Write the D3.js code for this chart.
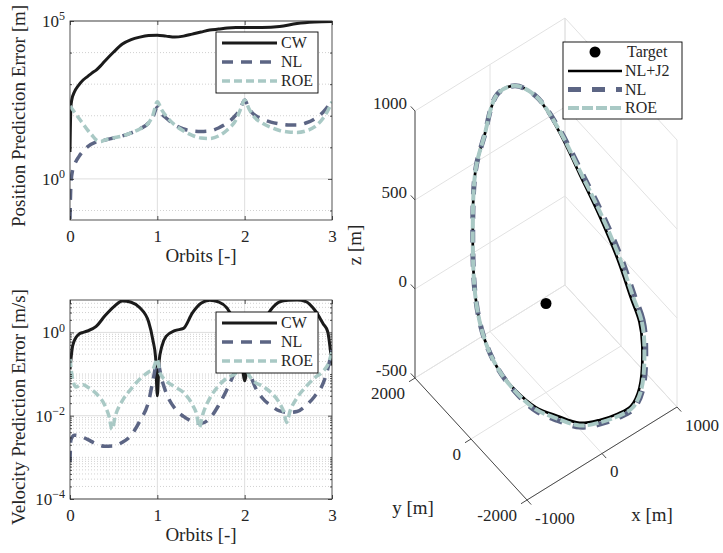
<!DOCTYPE html>
<html>
<head>
<meta charset="utf-8">
<script src="https://cdn.jsdelivr.net/npm/d3@7"></script>
<style>
body { margin: 0; background: #fff; }
text { font-family: "Liberation Serif", "DejaVu Serif", serif; fill: #262626; }
</style>
</head>
<body>
<svg width="723" height="553"></svg>
<script>
// ---- position error [m] vs orbits ----
var posCwT = [0, 0.01, 0.02, 0.05, 0.1, 0.15, 0.2, 0.25, 0.3, 0.35, 0.4, 0.5, 0.6, 0.7, 0.8, 0.9, 1.0, 1.1, 1.2, 1.3, 1.4, 1.5, 1.6, 1.7, 1.8, 1.9, 2.0, 2.2, 2.4, 2.6, 2.8, 3.0];
var posCw = [7.1, 188, 314, 562, 935, 1350, 1740, 2240, 2800, 3800, 5400, 10400, 18600, 25700, 30900, 34700, 35600, 33200, 30900, 33200, 38500, 44600, 51500, 55500, 60000, 62000, 62000, 62000, 66500, 83000, 92300, 95800];
var posNlT = [0, 0.01, 0.03, 0.06, 0.1, 0.2, 0.3, 0.4, 0.5, 0.6, 0.7, 0.8, 0.9, 0.95, 1.0, 1.05, 1.1, 1.2, 1.3, 1.4, 1.5, 1.6, 1.7, 1.8, 1.9, 1.95, 2.0, 2.05, 2.1, 2.2, 2.3, 2.4, 2.5, 2.6, 2.7, 2.8, 2.9, 3.0];
var posNl = [0.054, 0.65, 1.9, 3.2, 5.0, 10.3, 14.8, 17.1, 19.8, 22.9, 28.6, 38.2, 59, 91.5, 190, 114, 85, 51, 38, 33, 31.8, 33, 41, 59, 106, 165, 316, 165, 114, 79, 63, 55, 51, 51, 59, 79, 132, 300];
var posRoeT = [0, 0.05, 0.1, 0.15, 0.2, 0.25, 0.3, 0.35, 0.4, 0.5, 0.6, 0.7, 0.8, 0.9, 0.95, 1.0, 1.05, 1.1, 1.2, 1.3, 1.4, 1.5, 1.6, 1.7, 1.8, 1.9, 1.95, 2.0, 2.05, 2.1, 2.2, 2.3, 2.4, 2.5, 2.6, 2.7, 2.8, 2.9, 2.95, 3.0];
var posRoe = [204, 132, 85, 55, 35.5, 24.6, 17.1, 15.3, 17.1, 19.8, 22.9, 28.6, 38.2, 59, 106, 279, 153, 98, 51, 33, 23.9, 19.8, 19.1, 22.9, 35.5, 74, 153, 316, 165, 98, 59, 42.7, 34.2, 30.6, 29.6, 33, 44.3, 85, 141, 279];

// ---- velocity error [m/s] vs orbits ----
var velCwT = [0, 0.03, 0.07, 0.1, 0.15, 0.2, 0.3, 0.4, 0.5, 0.6, 0.7, 0.8, 0.9, 0.95, 0.98, 1.0, 1.02, 1.05, 1.1, 1.2, 1.3, 1.4, 1.5, 1.6, 1.7, 1.8, 1.9, 1.95, 2.0, 2.05, 2.1, 2.2, 2.3, 2.4, 2.5, 2.6, 2.7, 2.8, 2.9, 2.95, 3.0];
var velCw = [0.13, 0.47, 0.76, 0.9, 1.0, 1.08, 1.4, 2.5, 4.1, 5.7, 5.3, 3.9, 1.8, 0.64, 0.25, 0.03, 0.2, 0.45, 0.8, 1.1, 1.25, 2.9, 5.0, 5.9, 5.4, 3.8, 1.5, 0.6, 0.069, 0.45, 0.8, 1.6, 3.5, 5.4, 5.9, 6.0, 5.5, 3.5, 1.6, 1.05, 0.16];
var velNlT = [0, 0.01, 0.05, 0.1, 0.2, 0.3, 0.4, 0.5, 0.6, 0.7, 0.8, 0.9, 0.95, 1.0, 1.05, 1.1, 1.2, 1.3, 1.4, 1.5, 1.6, 1.7, 1.8, 1.9, 1.95, 2.0, 2.05, 2.1, 2.2, 2.3, 2.4, 2.5, 2.6, 2.7, 2.8, 2.9, 2.95, 3.0];
var velNl = [7.8e-4, 2.6e-3, 3.4e-3, 3.3e-3, 2.7e-3, 2.1e-3, 1.85e-3, 1.9e-3, 2.3e-3, 3.4e-3, 7.5e-3, 0.022, 0.07, 0.2, 0.076, 0.036, 0.015, 0.0096, 0.0073, 0.0065, 0.0086, 0.0175, 0.044, 0.13, 0.23, 0.3, 0.13, 0.061, 0.027, 0.0175, 0.013, 0.012, 0.0126, 0.0175, 0.029, 0.061, 0.13, 0.39];
var velRoeT = [0, 0.03, 0.07, 0.1, 0.15, 0.2, 0.3, 0.4, 0.45, 0.48, 0.52, 0.6, 0.7, 0.8, 0.9, 0.95, 1.0, 1.03, 1.1, 1.2, 1.3, 1.4, 1.45, 1.48, 1.52, 1.6, 1.7, 1.8, 1.9, 1.95, 2.0, 2.03, 2.1, 2.2, 2.3, 2.4, 2.45, 2.48, 2.52, 2.6, 2.7, 2.8, 2.9, 2.95, 3.0];
var velRoe = [0.23, 0.076, 0.049, 0.052, 0.055, 0.049, 0.034, 0.0175, 0.0091, 0.0047, 0.010, 0.023, 0.044, 0.076, 0.112, 0.13, 0.23, 0.106, 0.069, 0.049, 0.036, 0.0185, 0.0107, 0.0052, 0.0107, 0.026, 0.052, 0.081, 0.106, 0.148, 0.22, 0.118, 0.069, 0.052, 0.036, 0.020, 0.012, 0.0069, 0.013, 0.027, 0.049, 0.081, 0.118, 0.165, 0.35];

var orbitTicks = [0, 1, 2, 3];
var posTicks = [1, 1e5];
var velTicks = [1e-4, 1e-2, 1];

// ---- 3D trajectory [m] (one orbit, closed) ----
var nlj2X = [805, 925, 989, 995, 941, 831, 673, 476, 256, 26, -197, -399, -565, -685, -749, -755, -701, -591, -433, -236, -16, 214, 437, 639];
var nlj2Y = [-1283, -860, -384, 112, 594, 1030, 1389, 1647, 1787, 1799, 1683, 1445, 1103, 680, 204, -292, -774, -1210, -1569, -1827, -1967, -1979, -1863, -1625];
var nlj2Z = [-223, -198, -161, -28, 139, 335, 568, 760, 850, 863, 700, 608, 344, 94, -33, -115, -170, -220, -250, -296, -313, -337, -371, -363];
var nlX = [850, 972, 1036, 1040, 981, 861, 688, 476, 256, 26, -197, -399, -565, -685, -749, -755, -701, -591, -433, -231, -6, 234, 472, 684];
var nlY = [-1283, -860, -384, 112, 594, 1030, 1389, 1647, 1787, 1799, 1683, 1445, 1103, 680, 204, -292, -774, -1210, -1569, -1827, -1967, -1979, -1863, -1625];
var nlZ = [-233, -198, -161, -28, 139, 335, 568, 760, 850, 863, 700, 608, 344, 94, -33, -115, -180, -240, -275, -321, -338, -362, -396, -383];
var roeX = [832, 953, 1017, 1022, 965, 849, 682, 476, 256, 26, -197, -399, -565, -685, -749, -755, -701, -591, -433, -233, -10, 226, 458, 666];
var roeY = [-1283, -860, -384, 112, 594, 1030, 1389, 1647, 1787, 1799, 1683, 1445, 1103, 680, 204, -292, -774, -1210, -1569, -1827, -1967, -1979, -1863, -1625];
var roeZ = [-229, -198, -161, -28, 139, 335, 568, 760, 850, 863, 700, 608, 344, 94, -33, -115, -176, -232, -265, -311, -328, -352, -386, -375];
var target = [0, 0, 0];
var xTicks3 = [-1000, 0, 1000];
var yTicks3 = [-2000, 0, 2000];
var zTicks3 = [-500, 0, 500, 1000];

var cBlack = '#1b1b1b', cNl = '#5c6584', cRoe = '#a9c9c5', cAxis = '#262626';
var serif = '"Liberation Serif", "DejaVu Serif", serif';

var svg = d3.select('svg');
var left = 70, right = 332;
var x = d3.scaleLinear().domain([0, 3]).range([left, right]);

function sup(sel) {
    sel.each(function(d) {
        var t = d3.select(this);
        var e = Math.round(Math.log10(d));
        t.text('10');
        t.append('tspan').attr('dy', '-0.55em').attr('font-size', '12px')
            .text(e < 0 ? '\u2212' + (-e) : e);
    });
}

function panel(top, bottom, yDom, majors, minors, series, ylab, ylabY, legTop) {
    var y = d3.scaleLog().domain(yDom).range([bottom, top]);
    var g = svg.append('g');
    var id = 'clip' + top;
    svg.append('clipPath').attr('id', id).append('rect')
        .attr('x', left).attr('y', top).attr('width', right - left).attr('height', bottom - top);

    // grid
    g.selectAll(null).data(minors).enter().append('line')
        .attr('x1', left).attr('x2', right)
        .attr('y1', function(d){ return y(d); }).attr('y2', function(d){ return y(d); })
        .attr('stroke', '#bdbdbd').attr('stroke-width', 0.7).attr('stroke-dasharray', '1,2');
    g.selectAll(null).data(majors).enter().append('line')
        .attr('x1', left).attr('x2', right)
        .attr('y1', function(d){ return y(d); }).attr('y2', function(d){ return y(d); })
        .attr('stroke', '#dedede').attr('stroke-width', 1);
    g.selectAll(null).data([1, 2]).enter().append('line')
        .attr('x1', function(d){ return x(d); }).attr('x2', function(d){ return x(d); })
        .attr('y1', top).attr('y2', bottom)
        .attr('stroke', '#dedede').attr('stroke-width', 1);

    var line = d3.line()
        .x(function(d){ return x(d[0]); })
        .y(function(d){ return y(d[1]); })
        .curve(d3.curveMonotoneX);
    series.forEach(function(s) {
        g.append('path').datum(d3.zip(s.t, s.v))
            .attr('clip-path', 'url(#' + id + ')')
            .attr('d', line)
            .attr('fill', 'none')
            .attr('stroke', s.color)
            .attr('stroke-width', s.w)
            .attr('stroke-dasharray', s.dash);
    });

    // box and ticks
    g.append('rect').attr('x', left).attr('y', top)
        .attr('width', right - left).attr('height', bottom - top)
        .attr('fill', 'none').attr('stroke', cAxis).attr('stroke-width', 0.8);

    var ax = g.append('g').attr('transform', 'translate(0,' + bottom + ')')
        .call(d3.axisBottom(x).tickValues(orbitTicks).tickSize(-4).tickPadding(10).tickFormat(d3.format('d')));
    g.append('g').attr('transform', 'translate(0,' + top + ')')
        .call(d3.axisTop(x).tickValues(orbitTicks).tickSize(-4).tickFormat(''));
    var ay = g.append('g').attr('transform', 'translate(' + left + ',0)')
        .call(d3.axisLeft(y).tickValues(majors).tickSize(-4).tickPadding(5));
    g.append('g').attr('transform', 'translate(' + right + ',0)')
        .call(d3.axisRight(y).tickValues(majors).tickSize(-4).tickFormat(''));
    g.append('g').attr('transform', 'translate(' + left + ',0)')
        .call(d3.axisLeft(y).tickValues(minors).tickSize(-2).tickFormat(''));
    g.append('g').attr('transform', 'translate(' + right + ',0)')
        .call(d3.axisRight(y).tickValues(minors).tickSize(-2).tickFormat(''));
    g.selectAll('.domain').remove();
    g.selectAll('.tick line').attr('stroke', cAxis).attr('stroke-width', 0.8);
    ax.selectAll('text').attr('font-family', serif).attr('font-size', 17).attr('fill', cAxis);
    ay.selectAll('text').attr('font-family', serif).attr('font-size', 17).attr('fill', cAxis).call(sup);

    g.append('text').attr('x', (left + right) / 2).attr('y', bottom + 42)
        .attr('text-anchor', 'middle').attr('font-size', 19).text('Orbits [-]');
    g.append('text').attr('transform', 'translate(25,' + ylabY + ') rotate(-90)')
        .attr('text-anchor', 'middle').attr('font-size', 19).text(ylab);

    // legend
    var lg = g.append('g').attr('transform', 'translate(216,' + legTop + ')');
    lg.append('rect').attr('width', 102).attr('height', 61)
        .attr('fill', '#fff').attr('stroke', '#000').attr('stroke-width', 0.9);
    series.forEach(function(s, i) {
        var yy = 11 + i * 19;
        lg.append('line').attr('x1', 6).attr('x2', 61).attr('y1', yy).attr('y2', yy)
            .attr('stroke', s.color).attr('stroke-width', s.w).attr('stroke-dasharray', s.dash);
        lg.append('text').attr('x', 65).attr('y', yy).attr('dy', '0.33em')
            .attr('font-size', 16).attr('fill', '#000').text(s.name);
    });
}

function decades(a, b) {
    var out = [];
    for (var e = a; e <= b; e++) out.push(Math.pow(10, e));
    return out;
}
function minorLog(a, b) {
    var out = [];
    for (var e = a; e <= b; e++) {
        for (var m = 1; m <= 9; m++) out.push(m * Math.pow(10, e));
    }
    return out;
}

panel(21, 220, [0.05, 1e5], posTicks, decades(-1, 4).filter(function(d){ return d !== 1; }), [
    {name: 'CW', t: posCwT, v: posCw, color: cBlack, w: 3, dash: null},
    {name: 'NL', t: posNlT, v: posNl, color: cNl, w: 3.5, dash: '11,8'},
    {name: 'ROE', t: posRoeT, v: posRoe, color: cRoe, w: 3.5, dash: '8,4'}
], 'Position Prediction Error [m]', 116, 32);

panel(300, 499, [1e-4, 6], velTicks, minorLog(-4, 0).filter(function(d){ return d > 1e-4 && d < 6 && velTicks.indexOf(d) < 0; }), [
    {name: 'CW', t: velCwT, v: velCw, color: cBlack, w: 3, dash: null},
    {name: 'NL', t: velNlT, v: velNl, color: cNl, w: 3.5, dash: '11,8'},
    {name: 'ROE', t: velRoeT, v: velRoe, color: cRoe, w: 3.5, dash: '8,4'}
], 'Velocity Prediction Error [m/s]', 407, 312);

// ---- 3D view ----
var sx3 = d3.scaleLinear().domain([-1000, 1000]).range([0, 1]);
var sy3 = d3.scaleLinear().domain([-2000, 2000]).range([0, 1]);
var sz3 = d3.scaleLinear().domain([-500, 1000]).range([0, 1]);
var org = [527, 500], ex = [150, -93], ey = [-112, -122], ez = [0, -267];
function proj(p) {
    var a = sx3(p[0]), b = sy3(p[1]), c = sz3(p[2]);
    return [org[0] + a * ex[0] + b * ey[0] + c * ez[0],
            org[1] + a * ex[1] + b * ey[1] + c * ez[1]];
}

var g3 = svg.append('g');
var grid = [];
xTicks3.forEach(function(v){ grid.push([[v, -2000, -500], [v, 2000, -500]]); grid.push([[v, 2000, -500], [v, 2000, 1000]]); });
yTicks3.forEach(function(v){ grid.push([[-1000, v, -500], [1000, v, -500]]); grid.push([[1000, v, -500], [1000, v, 1000]]); });
zTicks3.forEach(function(v){ grid.push([[-1000, 2000, v], [1000, 2000, v]]); grid.push([[1000, -2000, v], [1000, 2000, v]]); });
g3.selectAll(null).data(grid).enter().append('line')
    .attr('x1', function(d){ return proj(d[0])[0]; }).attr('y1', function(d){ return proj(d[0])[1]; })
    .attr('x2', function(d){ return proj(d[1])[0]; }).attr('y2', function(d){ return proj(d[1])[1]; })
    .attr('stroke', '#e2e2e2').attr('stroke-width', 1);

var axes3 = [
    [[-1000, 2000, -500], [-1000, 2000, 1000]],
    [[-1000, -2000, -500], [-1000, 2000, -500]],
    [[-1000, -2000, -500], [1000, -2000, -500]]
];
zTicks3.forEach(function(v){ axes3.push([[-1000, 2000, v], [-1000, 2150, v]]); });
yTicks3.forEach(function(v){ axes3.push([[-1000, v, -500], [-1080, v, -500]]); });
xTicks3.forEach(function(v){ axes3.push([[v, -2000, -500], [v, -2150, -500]]); });
g3.selectAll(null).data(axes3).enter().append('line')
    .attr('x1', function(d){ return proj(d[0])[0]; }).attr('y1', function(d){ return proj(d[0])[1]; })
    .attr('x2', function(d){ return proj(d[1])[0]; }).attr('y2', function(d){ return proj(d[1])[1]; })
    .attr('stroke', '#4a4a4a').attr('stroke-width', 1);

g3.selectAll(null).data(zTicks3).enter().append('text')
    .attr('x', function(d){ return proj([-1000, 2000, d])[0] - 8; })
    .attr('y', function(d){ return proj([-1000, 2000, d])[1] - 8; })
    .attr('dy', '0.33em').attr('text-anchor', 'end').attr('font-size', 17).text(function(d){ return d; });
g3.selectAll(null).data(yTicks3).enter().append('text')
    .attr('x', function(d){ return proj([-1000, d, -500])[0] - 10; })
    .attr('y', function(d){ return proj([-1000, d, -500])[1] + 15; })
    .attr('dy', '0.33em').attr('text-anchor', 'end').attr('font-size', 17).text(function(d){ return d; });
g3.selectAll(null).data(xTicks3).enter().append('text')
    .attr('x', function(d){ return proj([d, -2000, -500])[0] + 8; })
    .attr('y', function(d){ return proj([d, -2000, -500])[1] + 18; })
    .attr('dy', '0.33em').attr('text-anchor', 'start').attr('font-size', 17).text(function(d){ return d; });

g3.append('text').attr('transform', 'translate(361,245) rotate(-90)')
    .attr('text-anchor', 'middle').attr('font-size', 19).text('z [m]');
g3.append('text').attr('x', 413).attr('y', 514).attr('text-anchor', 'middle').attr('font-size', 19).text('y [m]');
g3.append('text').attr('x', 652).attr('y', 521).attr('text-anchor', 'middle').attr('font-size', 19).text('x [m]');

var traj = [
    {name: 'NL+J2', xs: nlj2X, ys: nlj2Y, zs: nlj2Z, color: '#000', w: 2.7, dash: null},
    {name: 'NL', xs: nlX, ys: nlY, zs: nlZ, color: cNl, w: 5, dash: '13,11'},
    {name: 'ROE', xs: roeX, ys: roeY, zs: roeZ, color: cRoe, w: 4, dash: '11,3'}
];
var line3 = d3.line()
    .x(function(d){ return proj(d)[0]; })
    .y(function(d){ return proj(d)[1]; })
    .curve(d3.curveCatmullRomClosed);
traj.forEach(function(s) {
    g3.append('path').datum(d3.zip(s.xs, s.ys, s.zs))
        .attr('d', line3).attr('fill', 'none')
        .attr('stroke', s.color).attr('stroke-width', s.w)
        .attr('stroke-dasharray', s.dash).attr('stroke-linecap', 'butt');
});
g3.append('circle').attr('cx', proj(target)[0]).attr('cy', proj(target)[1])
    .attr('r', 5.5).attr('fill', '#000');

// legend
var lg3 = g3.append('g').attr('transform', 'translate(563,42)');
lg3.append('rect').attr('width', 119).attr('height', 77)
    .attr('fill', '#fff').attr('stroke', '#000').attr('stroke-width', 0.9);
lg3.append('circle').attr('cx', 32).attr('cy', 10).attr('r', 5.5).attr('fill', '#000');
lg3.append('text').attr('x', 64).attr('y', 10).attr('dy', '0.33em').attr('font-size', 16).attr('fill', '#000').text('Target');
traj.forEach(function(s, i) {
    var yy = 29 + i * 18.5;
    lg3.append('line').attr('x1', 5).attr('x2', 59).attr('y1', yy).attr('y2', yy)
        .attr('stroke', s.color).attr('stroke-width', s.w).attr('stroke-dasharray', s.dash);
    lg3.append('text').attr('x', 62).attr('y', yy).attr('dy', '0.33em')
        .attr('font-size', 16).attr('fill', '#000').text(s.name);
});
</script>
</body>
</html>
